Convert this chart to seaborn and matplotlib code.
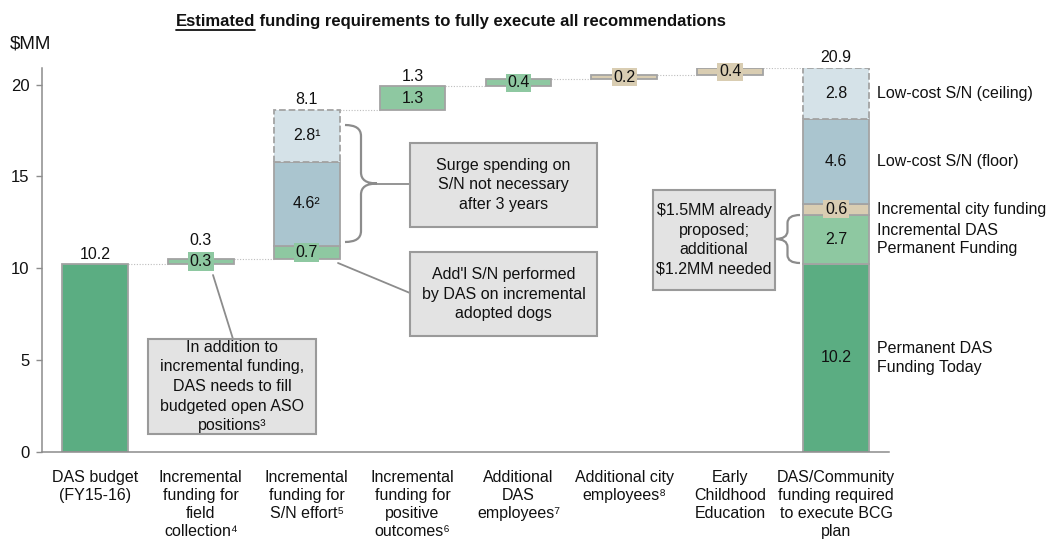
import numpy as np
import pandas as pd
import matplotlib
matplotlib.use("Agg")
import matplotlib.pyplot as plt
import seaborn as sns
from matplotlib.path import Path
from matplotlib.patches import PathPatch, Rectangle
from matplotlib.transforms import Affine2D
from matplotlib.lines import Line2D

# ---------------- data ----------------
categories = [
    "DAS budget\n(FY15-16)",
    "Incremental\nfunding for\nfield\ncollection\u2074",
    "Incremental\nfunding for\nS/N effort\u2075",
    "Incremental\nfunding for\npositive\noutcomes\u2076",
    "Additional\nDAS\nemployees\u2077",
    "Additional city\nemployees\u2078",
    "Early\nChildhood\nEducation",
    "DAS/Community\nfunding required\nto execute BCG\nplan",
]
seg_category = [0, 1, 2, 2, 2, 3, 4, 5, 6, 7, 7, 7, 7, 7]
seg_value = [10.2, 0.3, 0.7, 4.6, 2.8, 1.3, 0.4, 0.2, 0.4, 10.2, 2.7, 0.6, 4.6, 2.8]
seg_kind = ["base", "green", "green", "floor", "ceiling", "green", "green", "tan", "tan",
            "base", "green", "tan", "floor", "ceiling"]
seg_label = ["", "0.3", "0.7", "4.6\u00b2", "2.8\u00b9", "1.3", "0.4", "0.2", "0.4",
             "10.2", "2.7", "0.6", "4.6", "2.8"]
total_labels = ["10.2", "0.3", "8.1", "1.3", "", "", "", "20.9"]
total_category = 7
right_labels = ["Permanent DAS\nFunding Today", "Incremental DAS\nPermanent Funding",
                "Incremental city funding", "Low-cost S/N (floor)", "Low-cost S/N (ceiling)"]
yticks = [0, 5, 10, 15, 20]

# ---------------- style ----------------
colors = {"base": "#5bad82", "green": "#8ec8a1", "floor": "#aac5cf",
          "ceiling": "#d5e2e8", "tan": "#d9cdb2"}
EDGE = "#a3a3a3"
SPINE = "#8c8c8c"
BOXFACE = "#e3e3e3"
BOXEDGE = "#9a9a9a"
TXT = "#111111"

sns.set_theme(style="white")
FONT = ["Liberation Sans", "DejaVu Sans"]
plt.rcParams["font.family"] = FONT
plt.rcParams["text.color"] = TXT
plt.rcParams["xtick.color"] = TXT
plt.rcParams["ytick.color"] = TXT

W, H = 1047, 542
fig = plt.figure(figsize=(W / 100, H / 100), dpi=100)
ax = fig.add_axes([42 / W, 1 - 451.5 / H, 847 / W, 383.5 / H])
pix = Affine2D().scale(1 / W, -1 / H).translate(0, 1) + fig.transFigure

df = pd.DataFrame({"cat": seg_category, "value": seg_value, "kind": seg_kind, "label": seg_label})
bottoms = []
running = 0.0
prev = None
for c, v in zip(df["cat"], df["value"]):
    if c != prev and c == total_category:
        running = 0.0
    bottoms.append(running)
    running += v
    prev = c
df["bottom"] = bottoms
df["top"] = df["bottom"] + df["value"]

BW = 0.62
for _, r in df.iterrows():
    ls = "--" if r["kind"] == "ceiling" else "-"
    ax.bar(r["cat"], r["value"], bottom=r["bottom"], width=BW, color=colors[r["kind"]],
           edgecolor=EDGE, linewidth=1.3, linestyle=ls, zorder=2)
    if r["label"]:
        mid = r["bottom"] + r["value"] / 2
        if r["value"] < 1.0:
            ax.text(r["cat"], mid, r["label"], ha="center", va="center", fontsize=11.5, zorder=4,
                    bbox=dict(boxstyle="square,pad=0.1", fc=colors[r["kind"]], ec="none"))
        else:
            ax.text(r["cat"], mid, r["label"], ha="center", va="center", fontsize=11.5, zorder=4)

# connectors
tops = df.groupby("cat")["top"].max()
for c in range(len(categories) - 1):
    lvl = tops[c]
    ax.plot([c + BW / 2, c + 1 - BW / 2], [lvl, lvl], ls=(0, (1, 1.5)), color="#bdbdbd",
            lw=0.8, zorder=1)

# total labels on top
for c, lab in enumerate(total_labels):
    if lab:
        top_seg = df[df["cat"] == c].iloc[-1]
        off = 8 if top_seg["value"] < 1.0 else 2
        ax.annotate(lab, (c, tops[c]), xytext=(0, off), textcoords="offset points",
                    ha="center", va="bottom", fontsize=11.5)

# right labels for the total bar
tot = df[df["cat"] == total_category]
for lab, (_, r) in zip(right_labels, tot.iterrows()):
    ax.text(7.385, r["bottom"] + r["value"] / 2, lab, ha="left", va="center",
            fontsize=11.5, linespacing=1.3, clip_on=False)

# axes styling
ax.set_xlim(-0.5, len(categories) - 0.5)
ax.set_ylim(0, 20.9)
ax.set_yticks(yticks)
ax.set_yticklabels([str(t) for t in yticks], fontsize=12)
ax.set_xticks(range(len(categories)))
ax.set_xticklabels(categories, fontsize=11.5, linespacing=1.25)
ax.set_xticks(np.arange(-0.5, len(categories)), minor=True)
ax.tick_params(axis="x", which="major", length=0, pad=13.5)
ax.tick_params(axis="x", which="minor", length=5, color=SPINE, width=1, direction="out")
ax.tick_params(axis="y", length=4, color=SPINE, width=1, direction="out", left=True, pad=5)
for s in ["top", "right"]:
    ax.spines[s].set_visible(False)
for s in ["left", "bottom"]:
    ax.spines[s].set_color(SPINE)
    ax.spines[s].set_linewidth(1.1)
ax.grid(False)

# ---------------- annotations (reference pixel coordinates) ----------------
def box(x0, y0, x1, y1, text):
    fig.patches.append(Rectangle((x0, y0), x1 - x0, y1 - y0, transform=pix, fc=BOXFACE,
                                 ec=BOXEDGE, lw=1.5, zorder=5))
    fig.text((x0 + x1) / 2 / W, 1 - (y0 + y1) / 2 / H, text, ha="center", va="center",
             fontsize=11.5, linespacing=1.38, zorder=6)

def line(x0, y0, x1, y1):
    fig.lines.append(Line2D([x0, x1], [y0, y1], transform=pix, color="#8c8c8c", lw=1.3))

def brace(x_open, x_tip, y0, y1, r=10):
    xm = (x_open + x_tip) / 2
    ym = (y0 + y1) / 2
    verts = [(x_open, y0), (xm, y0), (xm, y0 + r), (xm, ym - r), (xm, ym), (x_tip, ym),
             (xm, ym), (xm, ym + r), (xm, y1 - r), (xm, y1), (x_open, y1)]
    codes = [Path.MOVETO, Path.CURVE3, Path.CURVE3, Path.LINETO, Path.CURVE3, Path.CURVE3,
             Path.CURVE3, Path.CURVE3, Path.LINETO, Path.CURVE3, Path.CURVE3]
    fig.patches.append(PathPatch(Path(verts, codes), transform=pix, fc="none",
                                 ec="#8c8c8c", lw=1.6))

brace(345, 377, 125, 242, r=11)
line(377, 183.5, 410, 183.5)
box(410, 143, 597, 227, "Surge spending on\nS/N not necessary\nafter 3 years")
line(338, 263, 410, 293)
box(410, 252, 597, 336, "Add'l S/N performed\nby DAS on incremental\nadopted dogs")
line(213, 275, 233, 339)
box(148, 339, 316, 434, "In addition to\nincremental funding,\nDAS needs to fill\nbudgeted open ASO\npositions\u00b3")
brace(800, 775, 215, 263, r=8)
box(653, 190, 775, 290, "$1.5MM already\nproposed;\nadditional\n$1.2MM needed")

# title and unit
fig.text(10 / W, 1 - 44 / H, "$MM", fontsize=13.5, ha="left", va="center")
t1 = fig.text(176 / W, 1 - 26 / H, "Estimated", fontsize=12, fontweight="bold",
              ha="left", va="baseline")
fig.canvas.draw()
bb = t1.get_window_extent()
fig.text(bb.x1 / W, 1 - 26 / H, " funding requirements to fully execute all recommendations",
         fontsize=12, fontweight="bold", ha="left", va="baseline")
fig.lines.append(Line2D([bb.x0, bb.x1], [bb.y0 - 1, bb.y0 - 1], transform=None,
                        color=TXT, lw=1.3))

fig.savefig("out.png", dpi=100)
